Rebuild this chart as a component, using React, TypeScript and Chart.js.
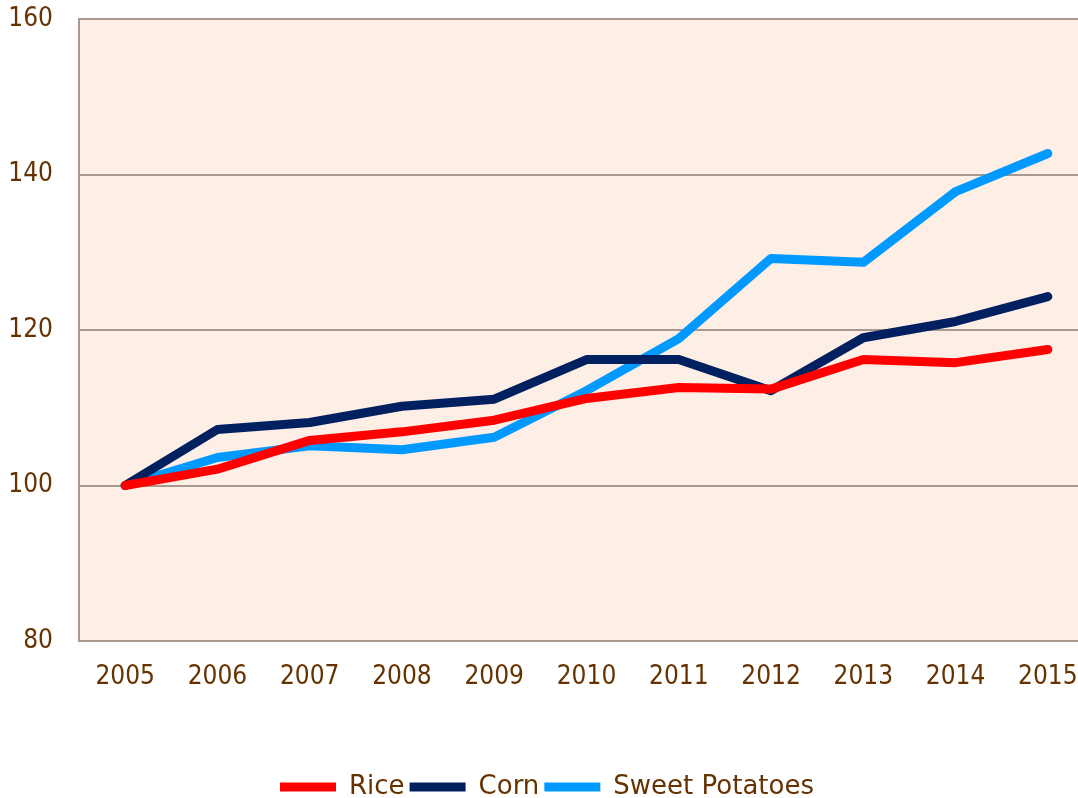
import React, { useEffect, useRef } from "react";
import { Chart, registerables } from "chart.js";

Chart.register(...registerables);

const years = ["2005", "2006", "2007", "2008", "2009", "2010", "2011", "2012", "2013", "2014", "2015"];
const rice = [100, 102.1, 105.8, 106.9, 108.4, 111.2, 112.6, 112.4, 116.2, 115.8, 117.5];
const corn = [100, 107.2, 108.1, 110.2, 111.1, 116.2, 116.2, 112.2, 119.0, 121.1, 124.3];
const sweetPotatoes = [100, 103.6, 105.1, 104.6, 106.2, 112.2, 118.9, 129.2, 128.7, 137.8, 142.7];
const yTicks = [80, 100, 120, 140, 160];

const FONT = "'DejaVu Sans Condensed', 'DejaVu Sans', sans-serif";
const LEGEND_FONT = "'DejaVu Sans', sans-serif";
const TEXT = "#663300";
const GRID = "#a89890";

const bgPlugin = {
  id: "plotBg",
  beforeDraw(chart: any) {
    const { ctx, chartArea } = chart;
    if (!chartArea) return;
    ctx.save();
    ctx.fillStyle = "#fdeee6";
    ctx.fillRect(chartArea.left, chartArea.top, chartArea.right - chartArea.left, chartArea.bottom - chartArea.top);
    ctx.restore();
  },
};

export default function App() {
  const ref = useRef<HTMLCanvasElement | null>(null);
  useEffect(() => {
    if (!ref.current) return;
    const mk = (label: string, data: number[], color: string) => ({
      label,
      data,
      borderColor: color,
      backgroundColor: color,
      borderWidth: 9,
      borderCapStyle: "round" as const,
      borderJoinStyle: "round" as const,
      pointRadius: 0,
      pointHoverRadius: 0,
      pointStyle: "line" as const,
      tension: 0,
    });
    const chart = new Chart(ref.current, {
      type: "line",
      data: {
        labels: years,
        datasets: [
          mk("Rice", rice, "#ff0000"),
          mk("Corn", corn, "#002060"),
          mk("Sweet Potatoes", sweetPotatoes, "#0099ff"),
        ],
      },
      options: {
        animation: false,
        responsive: false,
        maintainAspectRatio: false,
        layout: { padding: { top: 19, right: 6, bottom: -12, left: 0 } },
        plugins: {
          tooltip: { enabled: false },
          legend: {
            position: "bottom",
            labels: {
              usePointStyle: true,
              pointStyleWidth: 56,
              padding: 5,
              color: TEXT,
              font: { family: LEGEND_FONT, size: 26 },
            },
          },
        },
        scales: {
          x: {
            type: "category",
            offset: true,
            grid: { display: false, drawTicks: false },
            border: { display: true, color: GRID, width: 2 },
            ticks: { color: TEXT, font: { family: FONT, size: 26 }, padding: 21, maxRotation: 0 },
            afterFit: (s: any) => {
              s.height = 128;
            },
          },
          y: {
            min: 80,
            max: 160,
            afterBuildTicks: (s: any) => {
              s.ticks = yTicks.map((v) => ({ value: v }));
            },
            grid: { color: GRID, lineWidth: 2, drawTicks: false },
            border: { display: true, color: GRID, width: 2 },
            ticks: { color: TEXT, font: { family: FONT, size: 26 }, padding: 26 },
            afterFit: (s: any) => {
              s.width = 79;
              s.paddingTop = 0;
              s.paddingBottom = 0;
            },
          },
        },
      },
      plugins: [bgPlugin],
    });
    return () => chart.destroy();
  }, []);
  return (
    <div style={{ position: "fixed", left: 0, top: 0, width: 1078, height: 798, overflow: "hidden", background: "#fff" }}>
      <canvas ref={ref} width={1100} height={798} style={{ display: "block", width: 1100, height: 798 }} />
    </div>
  );
}
